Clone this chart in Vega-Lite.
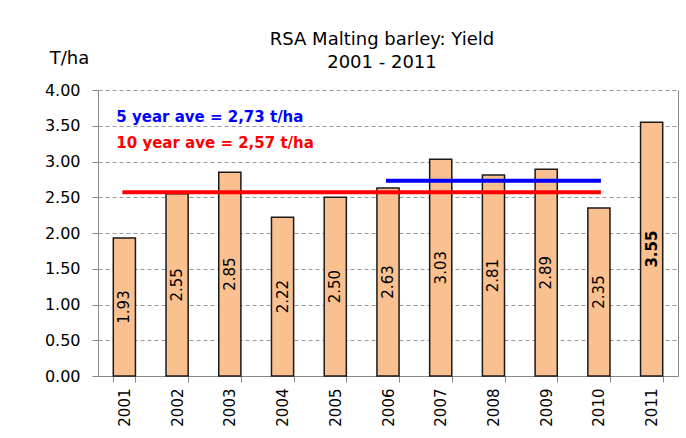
{
  "$schema": "https://vega.github.io/schema/vega-lite/v6.json",
  "width": 580,
  "height": 286,
  "autosize": {"type": "none"},
  "padding": {"left": 98, "top": 90, "right": 8, "bottom": 62},
  "background": "white",
  "config": {"view": {"stroke": null}, "font": "DejaVu Sans"},
  "title": {
    "text": ["RSA Malting barley: Yield", "2001 - 2011"],
    "fontSize": 18,
    "fontWeight": "normal",
    "color": "black",
    "anchor": "middle",
    "offset": 18,
    "lineHeight": 23,
    "dx": -6,
    "dy": 41
  },
  "datasets": {
    "yield": [
      {"year": "2001", "value": 1.93},
      {"year": "2002", "value": 2.55},
      {"year": "2003", "value": 2.85},
      {"year": "2004", "value": 2.22},
      {"year": "2005", "value": 2.50},
      {"year": "2006", "value": 2.63},
      {"year": "2007", "value": 3.03},
      {"year": "2008", "value": 2.81},
      {"year": "2009", "value": 2.89},
      {"year": "2010", "value": 2.35},
      {"year": "2011", "value": 3.55}
    ],
    "averages": [
      {"series": "10 year", "year": "2001", "value": 2.57},
      {"series": "10 year", "year": "2010", "value": 2.57},
      {"series": "5 year", "year": "2006", "value": 2.73},
      {"series": "5 year", "year": "2010", "value": 2.73}
    ],
    "notes": [
      {"series": "5 year", "year": "2001", "value": 3.62, "label": "5 year ave = 2,73 t/ha"},
      {"series": "10 year", "year": "2001", "value": 3.26, "label": "10 year ave = 2,57 t/ha"}
    ]
  },
  "layer": [
    {
      "data": {"name": "yield"},
      "mark": {"type": "bar", "fill": "#FAC090", "stroke": "#1a1a1a", "strokeWidth": 1.5},
      "encoding": {
        "x": {
          "field": "year", "type": "ordinal",
          "scale": {"domain": ["2001","2002","2003","2004","2005","2006","2007","2008","2009","2010","2011"], "paddingInner": 0.58, "paddingOuter": 0.29},
          "axis": {
            "title": null, "labelAngle": -90, "labelFontSize": 15, "labelColor": "black",
            "labelAlign": "right", "labelBaseline": "middle", "labelPadding": 6,
            "tickBand": "extent", "tickSize": 6, "tickColor": "#888", "domainColor": "#888", "grid": false
          }
        },
        "y": {
          "field": "value", "type": "quantitative",
          "scale": {"domain": [0, 4], "nice": false},
          "axis": {
            "title": "T/ha", "titleAngle": 0, "titleX": -29, "titleY": -32,
            "titleAlign": "center", "titleBaseline": "middle", "titleFontSize": 18,
            "titleFontWeight": "normal", "titleColor": "black",
            "values": [0, 0.5, 1, 1.5, 2, 2.5, 3, 3.5, 4], "format": ".2f",
            "labelFontSize": 16, "labelColor": "black", "labelPadding": 12,
            "tickSize": 6, "tickColor": "#888", "domainColor": "#888",
            "grid": true, "gridDash": [4, 3], "gridColor": "#999"
          }
        }
      }
    },
    {
      "data": {"name": "yield"},
      "transform": [{"filter": "datum.year != '2011'"}],
      "mark": {"type": "text", "angle": 270, "fontSize": 15, "color": "black", "align": "center", "baseline": "middle"},
      "encoding": {
        "x": {"field": "year", "type": "ordinal"},
        "y": {"field": "value", "type": "quantitative", "scale": {"domain": [0, 8], "nice": false}, "axis": null},
        "text": {"field": "value", "type": "quantitative", "format": ".2f"}
      }
    },
    {
      "data": {"name": "yield"},
      "transform": [{"filter": "datum.year == '2011'"}],
      "mark": {"type": "text", "angle": 270, "fontSize": 15, "fontWeight": "bold", "color": "black", "align": "center", "baseline": "middle"},
      "encoding": {
        "x": {"field": "year", "type": "ordinal"},
        "y": {"field": "value", "type": "quantitative", "scale": {"domain": [0, 8], "nice": false}, "axis": null},
        "text": {"field": "value", "type": "quantitative", "format": ".2f"}
      }
    },
    {
      "data": {"name": "averages"},
      "mark": {"type": "line", "strokeWidth": 4, "strokeCap": "square"},
      "encoding": {
        "x": {"field": "year", "type": "ordinal"},
        "y": {"field": "value", "type": "quantitative", "scale": {"domain": [0, 4], "nice": false}, "axis": null},
        "detail": {"field": "series"},
        "color": {"field": "series", "type": "nominal", "scale": {"domain": ["5 year", "10 year"], "range": ["#0000FF", "#FF0000"]}, "legend": null}
      }
    },
    {
      "data": {"name": "notes"},
      "mark": {"type": "text", "fontSize": 15, "fontWeight": "bold", "align": "left", "baseline": "middle", "dx": 3},
      "encoding": {
        "x": {"field": "year", "type": "ordinal", "bandPosition": 0},
        "y": {
          "field": "value", "type": "quantitative",
          "scale": {"domain": [0, 4], "nice": false},
          "axis": {"orient": "right", "labels": false, "ticks": false, "grid": false, "title": null, "domainColor": "#888"}
        },
        "text": {"field": "label"},
        "color": {"field": "series", "type": "nominal", "legend": null}
      }
    }
  ],
  "resolve": {"scale": {"y": "independent"}, "axis": {"y": "independent", "x": "shared"}}
}
